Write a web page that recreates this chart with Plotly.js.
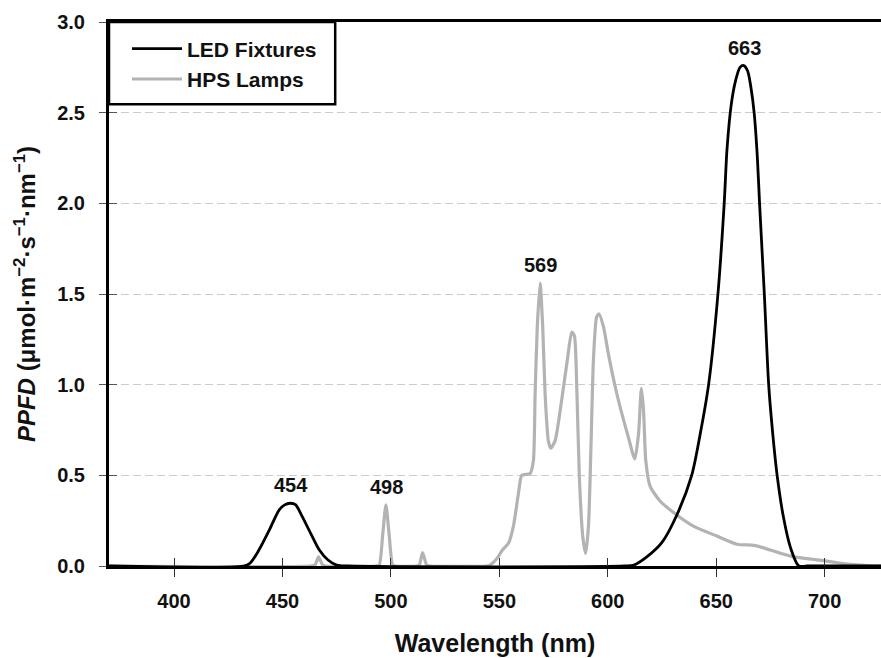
<!DOCTYPE html>
<html>
<head>
<meta charset="utf-8">
<script src="https://cdn.plot.ly/plotly-3.0.1.min.js"></script>
<style>html,body{margin:0;padding:0;background:#fff;}#chart{width:881px;height:658px;}</style>
</head>
<body>
<div id="chart"></div>
<script>
// LED fixtures spectrum (nm, PPFD)
const ledWavelength = [370, 432, 435, 439, 444, 448.5, 451, 453.5, 456, 459, 463, 467, 471, 475, 480,
  608, 612, 618, 625, 631.8, 638.7, 642.5, 646.5, 650.8, 653.7, 655, 657, 659, 661, 662.7, 664.5, 666, 667.5, 669, 670, 672.2, 674.2, 676, 678.1, 681, 684.3, 688.1, 692, 726];
const ledPPFD = [0, 0, 0.015, 0.085, 0.2, 0.31, 0.337, 0.346, 0.338, 0.275, 0.18, 0.088, 0.033, 0.005, 0,
  0, 0.005, 0.05, 0.13, 0.28, 0.5, 0.72, 1.0, 1.5, 2.0, 2.3, 2.55, 2.68, 2.75, 2.76, 2.73, 2.64, 2.5, 2.25, 2.0, 1.5, 1.0, 0.74, 0.5, 0.27, 0.1, 0, 0, 0];

// HPS lamps spectrum (nm, PPFD)
const hpsWavelength = [370, 463, 465, 466.6, 468.5, 470, 493, 494.6, 496.2, 497.7, 499.2, 500.8, 502,
  512, 513.1, 514.6, 516.5, 518, 544, 545.7, 548.8, 551.5, 554.2, 556.5, 558.8, 560.3, 562, 564.2, 565.7,
  566.5, 567.5, 568.8, 570, 571.1, 572.6, 573.7, 575.7, 578.8, 581.4, 583.4, 584.6, 585.7, 586.9, 588.5,
  589.8, 591.1, 592.3, 593.4, 594.9, 596, 598, 600.3, 603.4, 606.5, 609.5, 612.5, 614.2, 615.5, 616.5,
  617.5, 619.5, 624, 632, 639.5, 650.3, 659.6, 667.3, 671.9, 679.6, 685.8, 698, 710.5, 722.8, 726];
const hpsPPFD = [0, 0, 0.005, 0.05, 0.005, 0, 0, 0.005, 0.17, 0.337, 0.17, 0.005, 0,
  0, 0.005, 0.074, 0.005, 0, 0, 0.005, 0.04, 0.09, 0.125, 0.22, 0.40, 0.50, 0.505, 0.51, 0.58,
  0.95, 1.32, 1.56, 1.32, 0.95, 0.69, 0.65, 0.69, 0.92, 1.14, 1.29, 1.27, 0.99, 0.49, 0.16,
  0.07, 0.22, 0.68, 1.14, 1.375, 1.39, 1.32, 1.17, 0.99, 0.84, 0.71, 0.59, 0.73, 0.98, 0.86,
  0.585, 0.44, 0.36, 0.28, 0.22, 0.165, 0.12, 0.114, 0.1, 0.07, 0.05, 0.032, 0.01, 0, 0];

const seriesNames = ['LED Fixtures', 'HPS Lamps'];
const xTicks = [400, 450, 500, 550, 600, 650, 700];
const yTicks = [0, 0.5, 1.0, 1.5, 2.0, 2.5, 3.0];
const peakLabels = [454, 498, 569, 663];
const peakSeries = ['LED', 'HPS', 'HPS', 'LED'];

const FONT = 'Liberation Sans, Arial, sans-serif';

function peakValue(wl, series) {
  const xs = series === 'LED' ? ledWavelength : hpsWavelength;
  const ys = series === 'LED' ? ledPPFD : hpsPPFD;
  let best = 0;
  for (let i = 0; i < xs.length; i++) if (Math.abs(xs[i] - wl) <= 3 && ys[i] > best) best = ys[i];
  return best;
}

const ledTrace = {x: ledWavelength, y: ledPPFD, name: seriesNames[0], type: 'scatter', mode: 'lines',
  legendrank: 1, line: {color: '#000000', width: 2.8, shape: 'spline', smoothing: 0.8}};
const hpsTrace = {x: hpsWavelength, y: hpsPPFD, name: seriesNames[1], type: 'scatter', mode: 'lines',
  legendrank: 2, line: {color: '#b3b3b3', width: 3.2, shape: 'spline', smoothing: 0.6}};

const annotations = peakLabels.map((wl, i) => ({
  x: wl, y: peakValue(wl, peakSeries[i]), xref: 'x', yref: 'y',
  text: String(wl), showarrow: false, yanchor: 'middle', yshift: 18,
  font: {family: FONT, size: 20, color: '#111', weight: 'bold'}
}));

const layout = {
  width: 881, height: 658,
  margin: {l: 109, r: 0, t: 22, b: 92},
  paper_bgcolor: '#fff', plot_bgcolor: '#fff',
  font: {family: FONT, size: 20, color: '#111', weight: 'bold'},
  showlegend: true,
  legend: {x: 0.0233, y: 0.988, xanchor: 'left', yanchor: 'top', bgcolor: 'rgba(0,0,0,0)',
    borderwidth: 0, font: {family: FONT, size: 21, color: '#111', weight: 'bold'}, itemwidth: 50,
    traceorder: 'normal', tracegroupgap: 0},
  xaxis: {range: [370, 726], tickvals: xTicks, ticktext: xTicks.map(String),
    showgrid: false, zeroline: false, showline: true, linecolor: '#000', linewidth: 3, mirror: true,
    ticks: 'outside', ticklen: 8, tickwidth: 1, tickcolor: '#333', ticklabelstandoff: 7,
    tickfont: {family: FONT, size: 20, color: '#111', weight: 'bold'},
    title: {text: 'Wavelength (nm)', standoff: 24, font: {family: FONT, size: 25, color: '#111', weight: 'bold'}},
    automargin: false, fixedrange: true},
  yaxis: {range: [0, 3], tickvals: yTicks, ticktext: yTicks.map(v => v.toFixed(1)),
    showgrid: true, gridcolor: '#cccccc', gridwidth: 1, griddash: '8px,4px', zeroline: false,
    showline: true, linecolor: '#000', linewidth: 3,
    ticks: 'outside', ticklen: 7, tickwidth: 1, tickcolor: '#555', ticklabelstandoff: 10,
    tickfont: {family: FONT, size: 20, color: '#111', weight: 'bold'},
    title: {text: '<i>PPFD</i> (μmol·m<sup>−2</sup>·s<sup>−1</sup>·nm<sup>−1</sup>)', standoff: 15,
      font: {family: FONT, size: 24, color: '#111', weight: 'bold'}},
    automargin: false, fixedrange: true},
  xaxis2: {overlaying: 'x', anchor: 'y', side: 'bottom', range: [370, 726], tickvals: xTicks,
    showticklabels: false, showgrid: false, zeroline: false, showline: false,
    ticks: 'inside', ticklen: 8, tickwidth: 1, tickcolor: '#333', fixedrange: true},
  yaxis2: {overlaying: 'y', anchor: 'x', side: 'left', range: [0, 3], tickvals: yTicks,
    showticklabels: false, showgrid: false, zeroline: false, showline: false,
    ticks: 'inside', ticklen: 8, tickwidth: 1, tickcolor: '#555', fixedrange: true},
  shapes: [{type: 'rect', xref: 'paper', yref: 'paper', x0: 0, x1: 0.293, y0: 0.849, y1: 1,
    line: {color: '#000', width: 2.5}, fillcolor: 'rgba(0,0,0,0)', layer: 'above'}],
  annotations: annotations
};

const helpers = [
  {x: [], y: [], xaxis: 'x2', yaxis: 'y', showlegend: false, hoverinfo: 'skip'},
  {x: [], y: [], xaxis: 'x', yaxis: 'y2', showlegend: false, hoverinfo: 'skip'}
];

Plotly.newPlot('chart', [hpsTrace, ledTrace].concat(helpers), layout, {displayModeBar: false, staticPlot: true});
</script>
</body>
</html>
